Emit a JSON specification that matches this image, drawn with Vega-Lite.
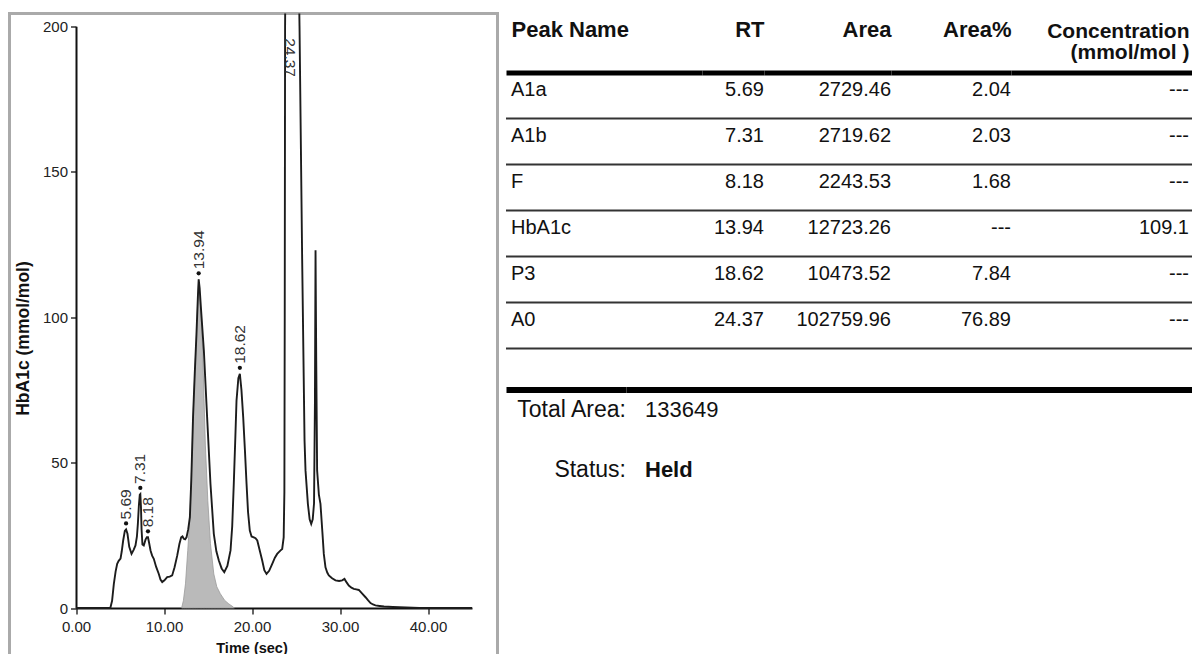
{
  "$schema": "https://vega.github.io/schema/vega-lite/v6.json",
  "background": "white",
  "padding": {"left": 7.5, "top": 11.5, "right": 0, "bottom": 0},
  "spacing": 5.5,
  "config": {"view": {"stroke": null}, "font": "Liberation Sans"},
  "datasets": {
    "trace": [
      {"t": 0, "v": 0}, {"t": 3.9, "v": 0}, {"t": 4.1, "v": 2.5}, {"t": 4.3, "v": 8.3}, {"t": 4.5, "v": 12.5},
      {"t": 4.68, "v": 15.2}, {"t": 4.85, "v": 16.2}, {"t": 5.06, "v": 17.0}, {"t": 5.2, "v": 19.5}, {"t": 5.36, "v": 23.2},
      {"t": 5.55, "v": 26.5}, {"t": 5.69, "v": 27.0}, {"t": 5.85, "v": 25.5}, {"t": 6.05, "v": 21.0}, {"t": 6.31, "v": 18.6},
      {"t": 6.55, "v": 20.0}, {"t": 6.76, "v": 21.5}, {"t": 6.92, "v": 24.5}, {"t": 7.03, "v": 28.9}, {"t": 7.15, "v": 35.5},
      {"t": 7.25, "v": 39.0}, {"t": 7.31, "v": 39.2}, {"t": 7.38, "v": 35.0}, {"t": 7.45, "v": 27.0}, {"t": 7.55, "v": 21.8},
      {"t": 7.7, "v": 21.5}, {"t": 7.9, "v": 23.5}, {"t": 8.05, "v": 24.3}, {"t": 8.18, "v": 24.3}, {"t": 8.3, "v": 22.5},
      {"t": 8.47, "v": 19.8}, {"t": 8.65, "v": 18.0}, {"t": 8.84, "v": 16.9}, {"t": 9.1, "v": 14.2}, {"t": 9.41, "v": 11.7},
      {"t": 9.6, "v": 9.8}, {"t": 9.8, "v": 8.9}, {"t": 10.05, "v": 9.5}, {"t": 10.36, "v": 10.6}, {"t": 10.65, "v": 10.8},
      {"t": 10.93, "v": 11.2}, {"t": 11.2, "v": 14.0}, {"t": 11.5, "v": 18.0}, {"t": 11.75, "v": 22.0}, {"t": 11.95, "v": 24.3},
      {"t": 12.1, "v": 24.6}, {"t": 12.25, "v": 23.8}, {"t": 12.4, "v": 23.6}, {"t": 12.56, "v": 24.3}, {"t": 12.75, "v": 27.0},
      {"t": 12.94, "v": 31.2}, {"t": 13.1, "v": 44}, {"t": 13.3, "v": 65.6}, {"t": 13.5, "v": 81}, {"t": 13.69, "v": 94.2},
      {"t": 13.85, "v": 107}, {"t": 13.94, "v": 113}, {"t": 14.05, "v": 110}, {"t": 14.2, "v": 103}, {"t": 14.53, "v": 88.5},
      {"t": 14.9, "v": 65.6}, {"t": 15.28, "v": 42.7}, {"t": 15.66, "v": 25.5}, {"t": 15.95, "v": 19.5}, {"t": 16.23, "v": 16.3},
      {"t": 16.55, "v": 13.6}, {"t": 16.85, "v": 12.3}, {"t": 17.2, "v": 14.5}, {"t": 17.56, "v": 19.8}, {"t": 17.75, "v": 28},
      {"t": 17.93, "v": 42.7}, {"t": 18.1, "v": 58}, {"t": 18.24, "v": 71.3}, {"t": 18.45, "v": 79}, {"t": 18.62, "v": 80.5},
      {"t": 18.8, "v": 75}, {"t": 19.0, "v": 65.6}, {"t": 19.2, "v": 54}, {"t": 19.38, "v": 42.7}, {"t": 19.55, "v": 33},
      {"t": 19.75, "v": 26.6}, {"t": 19.95, "v": 24.6}, {"t": 20.2, "v": 24.3}, {"t": 20.4, "v": 24.0}, {"t": 20.6, "v": 23.2},
      {"t": 20.9, "v": 19.5}, {"t": 21.16, "v": 16.3}, {"t": 21.4, "v": 13.0}, {"t": 21.65, "v": 11.7}, {"t": 21.95, "v": 12.8},
      {"t": 22.3, "v": 15.2}, {"t": 22.6, "v": 17.3}, {"t": 22.86, "v": 18.6}, {"t": 23.05, "v": 19.2}, {"t": 23.25, "v": 19.8},
      {"t": 23.43, "v": 20.3}, {"t": 23.6, "v": 24.3}, {"t": 23.68, "v": 40}, {"t": 23.72, "v": 100}, {"t": 23.76, "v": 200},
      {"t": 24.0, "v": 300}, {"t": 24.37, "v": 340}, {"t": 24.9, "v": 300}, {"t": 25.4, "v": 200}, {"t": 25.7, "v": 120},
      {"t": 25.97, "v": 57.6}, {"t": 26.08, "v": 47.3}, {"t": 26.35, "v": 35.8}, {"t": 26.55, "v": 30.5}, {"t": 26.73, "v": 28.9},
      {"t": 26.9, "v": 30.5}, {"t": 27.05, "v": 36}, {"t": 27.15, "v": 70}, {"t": 27.22, "v": 123}, {"t": 27.3, "v": 85},
      {"t": 27.4, "v": 47.3}, {"t": 27.6, "v": 39}, {"t": 27.78, "v": 35.8}, {"t": 28.0, "v": 26}, {"t": 28.16, "v": 18.6},
      {"t": 28.35, "v": 14.0}, {"t": 28.55, "v": 12.2}, {"t": 28.73, "v": 11.2}, {"t": 29.1, "v": 10.2}, {"t": 29.49, "v": 9.5},
      {"t": 29.9, "v": 9.3}, {"t": 30.25, "v": 9.5}, {"t": 30.51, "v": 10.0}, {"t": 30.75, "v": 8.8}, {"t": 31.0, "v": 7.7},
      {"t": 31.3, "v": 7.0}, {"t": 31.57, "v": 6.6}, {"t": 31.85, "v": 6.4}, {"t": 32.14, "v": 6.2}, {"t": 32.5, "v": 5.0},
      {"t": 32.9, "v": 3.7}, {"t": 33.2, "v": 2.6}, {"t": 33.47, "v": 1.7}, {"t": 33.75, "v": 1.2}, {"t": 34.03, "v": 0.9},
      {"t": 34.5, "v": 0.7}, {"t": 35.0, "v": 0.5}, {"t": 36.0, "v": 0.35}, {"t": 37.5, "v": 0.2}, {"t": 39.0, "v": 0},
      {"t": 45.0, "v": 0}
    ],
    "hba1cFit": [
      {"t": 12.0, "v": 0}, {"t": 12.2, "v": 2.5}, {"t": 12.44, "v": 8.3}, {"t": 12.7, "v": 19.8}, {"t": 12.94, "v": 31},
      {"t": 13.1, "v": 44}, {"t": 13.3, "v": 65.6}, {"t": 13.5, "v": 81}, {"t": 13.69, "v": 94.2}, {"t": 13.85, "v": 107},
      {"t": 13.94, "v": 113}, {"t": 14.05, "v": 108}, {"t": 14.2, "v": 102}, {"t": 14.4, "v": 88}, {"t": 14.55, "v": 72},
      {"t": 14.7, "v": 56}, {"t": 14.98, "v": 36.9}, {"t": 15.28, "v": 22.1}, {"t": 15.66, "v": 11.7}, {"t": 16.0, "v": 7.3},
      {"t": 16.4, "v": 4.9}, {"t": 16.9, "v": 2.6}, {"t": 17.37, "v": 1.4}, {"t": 17.9, "v": 0.3}, {"t": 18.0, "v": 0}
    ],
    "peaks": [
      {"name": "A1a", "rt": 5.69, "area": 2729.46, "areaPct": "2.04", "conc": "---", "height": 27.0},
      {"name": "A1b", "rt": 7.31, "area": 2719.62, "areaPct": "2.03", "conc": "---", "height": 39.2},
      {"name": "F", "rt": 8.18, "area": 2243.53, "areaPct": "1.68", "conc": "---", "height": 24.3},
      {"name": "HbA1c", "rt": 13.94, "area": 12723.26, "areaPct": "---", "conc": "109.1", "height": 113},
      {"name": "P3", "rt": 18.62, "area": 10473.52, "areaPct": "7.84", "conc": "---", "height": 80.5},
      {"name": "A0", "rt": 24.37, "area": 102759.96, "areaPct": "76.89", "conc": "---", "height": 340}
    ],
    "summary": [
      {"label": "Total Area:", "value": "133649", "emphasis": "normal"},
      {"label": "Status:", "value": "Held", "emphasis": "bold"}
    ]
  },
  "hconcat": [
    {
      "width": 488,
      "height": 660,
      "view": {"stroke": "#aaaaaa", "strokeWidth": 3},
      "layer": [
        {
          "data": {"name": "hba1cFit"},
          "mark": {"type": "area", "color": "#bababa", "stroke": "#9a9a9a", "strokeWidth": 0.8},
          "encoding": {
            "x": {
              "field": "t", "type": "quantitative",
              "scale": {"domain": [0, 45], "range": [66.5, 462.5], "nice": false},
              "axis": {
                "orient": "bottom", "offset": -65.5, "values": [0, 10, 20, 30, 40], "format": ".2f",
                "grid": false, "labelFlush": false, "labelOverlap": false,
                "domainColor": "#111", "domainWidth": 2, "tickColor": "#111", "tickWidth": 1.3, "tickSize": 6,
                "labelFont": "Liberation Sans", "labelFontSize": 15, "labelColor": "#222", "labelPadding": 5,
                "title": "Time (sec)", "titleFont": "Liberation Sans", "titleFontSize": 14.5, "titleFontWeight": "bold",
                "titleColor": "#111", "titleX": 242, "titleY": 33, "titleBaseline": "top", "titleAlign": "center"
              }
            },
            "y": {
              "field": "v", "type": "quantitative",
              "scale": {"domain": [0, 200], "range": [594.5, 12.7], "nice": false},
              "axis": {
                "orient": "left", "offset": -66.5, "values": [0, 50, 100, 150, 200],
                "grid": false, "domainColor": "#111", "domainWidth": 2, "tickColor": "#111", "tickWidth": 1.3, "tickSize": 5.5,
                "labelFont": "Liberation Sans", "labelFontSize": 15, "labelColor": "#222", "labelPadding": 3,
                "title": "HbA1c (mmol/mol)", "titleFont": "Liberation Sans", "titleFontSize": 17.5, "titleFontWeight": "bold",
                "titleColor": "#111", "titleX": -52.5, "titleY": 324.5, "titleAngle": 270, "titleAlign": "center", "titleBaseline": "middle"
              }
            }
          }
        },
        {
          "data": {"name": "trace"},
          "mark": {"type": "line", "color": "#1c1c1c", "strokeWidth": 1.9, "clip": true},
          "encoding": {
            "x": {"field": "t", "type": "quantitative"},
            "y": {"field": "v", "type": "quantitative"}
          }
        },
        {
          "data": {"name": "peaks"},
          "transform": [{"filter": "datum.height <= 200"}],
          "mark": {"type": "point", "filled": true, "color": "#111", "size": 18, "opacity": 1, "yOffset": -6},
          "encoding": {
            "x": {"field": "rt", "type": "quantitative"},
            "y": {"field": "height", "type": "quantitative"}
          }
        },
        {
          "data": {"name": "peaks"},
          "transform": [{"filter": "datum.height <= 200"}],
          "mark": {"type": "text", "angle": 270, "align": "left", "baseline": "middle", "dx": 10, "fontSize": 15.5, "color": "#333"},
          "encoding": {
            "x": {"field": "rt", "type": "quantitative"},
            "y": {"field": "height", "type": "quantitative"},
            "text": {"field": "rt", "type": "quantitative", "format": ".2f"}
          }
        },
        {
          "data": {"name": "peaks"},
          "transform": [{"filter": "datum.height > 200"}],
          "mark": {"type": "text", "angle": 90, "align": "left", "baseline": "middle", "dx": 12, "fontSize": 15.5, "color": "#333"},
          "encoding": {
            "x": {"field": "rt", "type": "quantitative"},
            "y": {"datum": 200, "type": "quantitative"},
            "text": {"field": "rt", "type": "quantitative", "format": ".2f"}
          }
        }
      ]
    },
    {
      "spacing": 40,
      "vconcat": [
        {
          "spacing": 0,
          "bounds": "flush",
          "hconcat": [
            {
              "data": {"name": "peaks"},
              "width": 196, "height": 335,
              "layer": [
                {
                  "mark": {"type": "rule", "color": "#333", "strokeWidth": 2},
                  "encoding": {"y": {"field": "name", "type": "nominal", "bandPosition": 1, "scale": {"type": "band", "domain": ["A1a", "A1b", "F", "HbA1c", "P3", "A0"], "range": [59, 335], "paddingInner": 0, "paddingOuter": 0}, "axis": null}}
                },
                {
                  "mark": {"type": "text", "align": "left", "baseline": "middle", "dx": 5, "fontSize": 20, "color": "#111"},
                  "encoding": {
                    "x": {"datum": 0, "type": "quantitative", "scale": {"domain": [0, 1]},
                      "axis": {"orient": "top", "offset": -59, "labels": false, "ticks": false, "grid": false, "domainColor": "#000", "domainWidth": 5, "domainCap": "butt",
                        "title": "Peak Name", "titleX": 5, "titleAlign": "left", "titleFont": "Liberation Sans", "titleFontSize": 22, "titleFontWeight": "bold", "titleColor": "#111", "titlePadding": 31}},
                    "y": {"field": "name", "type": "nominal", "bandPosition": 0.39},
                    "text": {"field": "name"}
                  }
                }
              ]
            },
            {
              "data": {"name": "peaks"},
              "width": 62, "height": 335,
              "layer": [
                {
                  "mark": {"type": "rule", "color": "#333", "strokeWidth": 2},
                  "encoding": {"y": {"field": "name", "type": "nominal", "bandPosition": 1, "scale": {"type": "band", "domain": ["A1a", "A1b", "F", "HbA1c", "P3", "A0"], "range": [59, 335], "paddingInner": 0, "paddingOuter": 0}, "axis": null}}
                },
                {
                  "mark": {"type": "text", "align": "right", "baseline": "middle", "fontSize": 20, "color": "#111"},
                  "encoding": {
                    "x": {"datum": 1, "type": "quantitative", "scale": {"domain": [0, 1]},
                      "axis": {"orient": "top", "offset": -59, "labels": false, "ticks": false, "grid": false, "domainColor": "#000", "domainWidth": 5, "domainCap": "butt",
                        "title": "RT", "titleAnchor": "end", "titleFont": "Liberation Sans", "titleFontSize": 22, "titleFontWeight": "bold", "titleColor": "#111", "titlePadding": 31}},
                    "y": {"field": "name", "type": "nominal", "bandPosition": 0.39},
                    "text": {"field": "rt", "type": "quantitative", "format": ".2f"}
                  }
                }
              ]
            },
            {
              "data": {"name": "peaks"},
              "width": 127, "height": 335,
              "layer": [
                {
                  "mark": {"type": "rule", "color": "#333", "strokeWidth": 2},
                  "encoding": {"y": {"field": "name", "type": "nominal", "bandPosition": 1, "scale": {"type": "band", "domain": ["A1a", "A1b", "F", "HbA1c", "P3", "A0"], "range": [59, 335], "paddingInner": 0, "paddingOuter": 0}, "axis": null}}
                },
                {
                  "mark": {"type": "text", "align": "right", "baseline": "middle", "fontSize": 20, "color": "#111"},
                  "encoding": {
                    "x": {"datum": 1, "type": "quantitative", "scale": {"domain": [0, 1]},
                      "axis": {"orient": "top", "offset": -59, "labels": false, "ticks": false, "grid": false, "domainColor": "#000", "domainWidth": 5, "domainCap": "butt",
                        "title": "Area", "titleAnchor": "end", "titleFont": "Liberation Sans", "titleFontSize": 22, "titleFontWeight": "bold", "titleColor": "#111", "titlePadding": 31}},
                    "y": {"field": "name", "type": "nominal", "bandPosition": 0.39},
                    "text": {"field": "area", "type": "quantitative", "format": ".2f"}
                  }
                }
              ]
            },
            {
              "data": {"name": "peaks"},
              "width": 120, "height": 335,
              "layer": [
                {
                  "mark": {"type": "rule", "color": "#333", "strokeWidth": 2},
                  "encoding": {"y": {"field": "name", "type": "nominal", "bandPosition": 1, "scale": {"type": "band", "domain": ["A1a", "A1b", "F", "HbA1c", "P3", "A0"], "range": [59, 335], "paddingInner": 0, "paddingOuter": 0}, "axis": null}}
                },
                {
                  "mark": {"type": "text", "align": "right", "baseline": "middle", "fontSize": 20, "color": "#111"},
                  "encoding": {
                    "x": {"datum": 1, "type": "quantitative", "scale": {"domain": [0, 1]},
                      "axis": {"orient": "top", "offset": -59, "labels": false, "ticks": false, "grid": false, "domainColor": "#000", "domainWidth": 5, "domainCap": "butt",
                        "title": "Area%", "titleAnchor": "end", "titleFont": "Liberation Sans", "titleFontSize": 22, "titleFontWeight": "bold", "titleColor": "#111", "titlePadding": 31}},
                    "y": {"field": "name", "type": "nominal", "bandPosition": 0.39},
                    "text": {"field": "areaPct"}
                  }
                }
              ]
            },
            {
              "data": {"name": "peaks"},
              "width": 183, "height": 335,
              "layer": [
                {
                  "mark": {"type": "rule", "color": "#333", "strokeWidth": 2},
                  "encoding": {"y": {"field": "name", "type": "nominal", "bandPosition": 1, "scale": {"type": "band", "domain": ["A1a", "A1b", "F", "HbA1c", "P3", "A0"], "range": [59, 335], "paddingInner": 0, "paddingOuter": 0}, "axis": null}}
                },
                {
                  "mark": {"type": "text", "align": "right", "baseline": "middle", "dx": -5, "fontSize": 20, "color": "#111"},
                  "encoding": {
                    "x": {"datum": 1, "type": "quantitative", "scale": {"domain": [0, 1]},
                      "axis": {"orient": "top", "offset": -59, "labels": false, "ticks": false, "grid": false, "domainColor": "#000", "domainWidth": 5, "domainCap": "butt",
                        "title": ["Concentration", "(mmol/mol )"], "titleX": 178, "titleAlign": "right", "titleLineHeight": 21, "titleFont": "Liberation Sans", "titleFontSize": 21, "titleFontWeight": "bold", "titleColor": "#111", "titlePadding": 10}},
                    "y": {"field": "name", "type": "nominal", "bandPosition": 0.39},
                    "text": {"field": "conc"}
                  }
                }
              ]
            }
          ]
        },
        {
          "spacing": 0,
          "bounds": "flush",
          "hconcat": [
            {
              "data": {"name": "summary"},
              "width": 120, "height": 101,
              "mark": {"type": "text", "align": "right", "baseline": "middle", "fontSize": 23, "color": "#111"},
              "encoding": {
                "x": {"datum": 1, "type": "quantitative", "scale": {"domain": [0, 1]},
                  "axis": {"orient": "top", "labels": false, "ticks": false, "grid": false, "title": null, "domainColor": "#000", "domainWidth": 6, "domainCap": "butt"}},
                "y": {"field": "label", "type": "nominal", "scale": {"type": "point", "domain": ["Total Area:", "Status:"], "padding": 0.328}, "axis": null},
                "text": {"field": "label"}
              }
            },
            {
              "data": {"name": "summary"},
              "width": 568, "height": 101,
              "layer": [
                {
                  "transform": [{"filter": "datum.emphasis === 'normal'"}],
                  "mark": {"type": "text", "align": "left", "baseline": "middle", "dx": 19, "fontSize": 22, "color": "#111"},
                  "encoding": {
                    "x": {"datum": 0, "type": "quantitative", "scale": {"domain": [0, 1]},
                      "axis": {"orient": "top", "labels": false, "ticks": false, "grid": false, "title": null, "domainColor": "#000", "domainWidth": 6, "domainCap": "butt"}},
                    "y": {"field": "label", "type": "nominal", "scale": {"type": "point", "domain": ["Total Area:", "Status:"], "padding": 0.328}, "axis": null},
                    "text": {"field": "value"}
                  }
                },
                {
                  "transform": [{"filter": "datum.emphasis === 'bold'"}],
                  "mark": {"type": "text", "align": "left", "baseline": "middle", "dx": 19, "fontSize": 22, "fontWeight": "bold", "color": "#111"},
                  "encoding": {
                    "x": {"datum": 0, "type": "quantitative"},
                    "y": {"field": "label", "type": "nominal"},
                    "text": {"field": "value"}
                  }
                }
              ]
            }
          ]
        }
      ]
    }
  ]
}
